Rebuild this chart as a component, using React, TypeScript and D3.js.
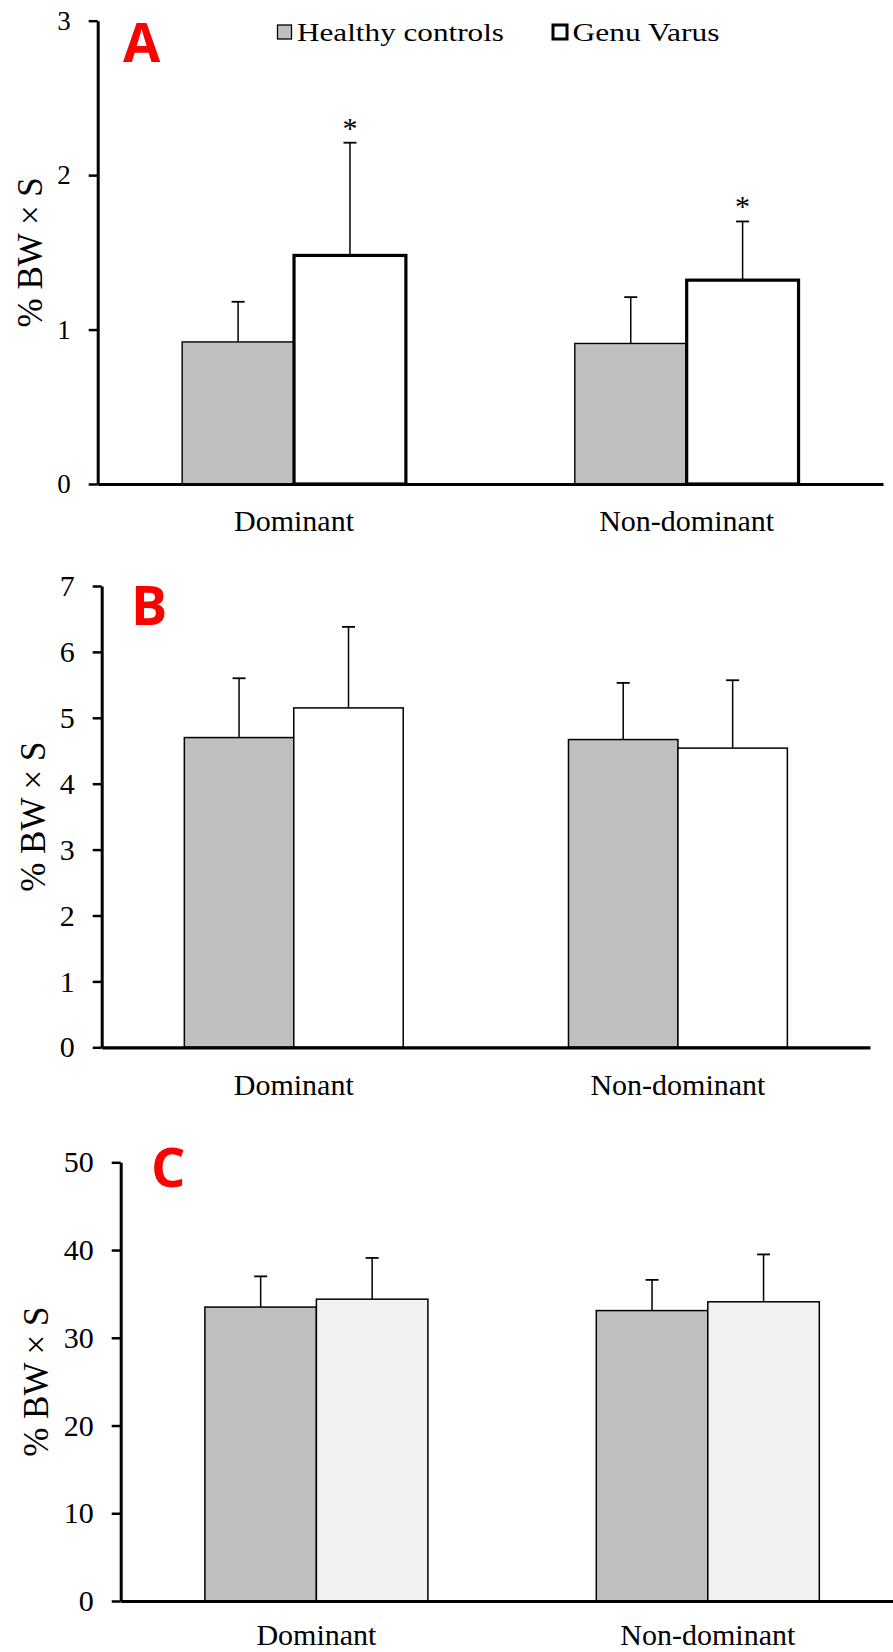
import React, { useEffect, useRef } from "react";
import * as d3 from "d3";

// categories and groups
const categories = ["Dominant", "Non-dominant"];
const groups = ["Healthy controls", "Genu Varus"];

// panel A (means and SD)
const healthyA = [0.92, 0.91];
const healthySdA = [0.26, 0.3];
const varusA = [1.48, 1.32];
const varusSdA = [0.73, 0.38];
const sigA = [true, true];
const ticksA = [0, 1, 2, 3];

// panel B
const healthyB = [4.7, 4.67];
const healthySdB = [0.9, 0.86];
const varusB = [5.15, 4.54];
const varusSdB = [1.23, 1.03];
const sigB = [false, false];
const ticksB = [0, 1, 2, 3, 4, 5, 6, 7];

// panel C
const healthyC = [33.5, 33.1];
const healthySdC = [3.5, 3.5];
const varusC = [34.4, 34.1];
const varusSdC = [4.7, 5.4];
const sigC = [false, false];
const ticksC = [0, 10, 20, 30, 40, 50];

const yTitle = "% BW × S";
const serif = "'Liberation Serif', 'Times New Roman', serif";

const panels = [
  {
    name: "A", left: 97.7, right: 883, top: 20.7, bottom: 484, max: 3, ticks: ticksA,
    healthy: healthyA, healthySd: healthySdA, varus: varusA, varusSd: varusSdA, sig: sigA,
    varusFill: "#ffffff", healthyStroke: 1.4, varusStroke: 3.2, tickFont: 27, xPad: 26,
    labelX: 123, labelY: 62, titleX: 42, legend: true,
  },
  {
    name: "B", left: 101.7, right: 870, top: 586, bottom: 1047.3, max: 7, ticks: ticksB,
    healthy: healthyB, healthySd: healthySdB, varus: varusB, varusSd: varusSdB, sig: sigB,
    varusFill: "#ffffff", healthyStroke: 1.5, varusStroke: 1.5, tickFont: 30, xPad: 26,
    labelX: 131, labelY: 625, titleX: 45, legend: false,
  },
  {
    name: "C", left: 120.7, right: 903.5, top: 1162.3, bottom: 1601, max: 50, ticks: ticksC,
    healthy: healthyC, healthySd: healthySdC, varus: varusC, varusSd: varusSdC, sig: sigC,
    varusFill: "#f2f2f2", healthyStroke: 1.5, varusStroke: 1.5, tickFont: 30, xPad: 23,
    labelX: 151, labelY: 1187, titleX: 48, legend: false,
  },
];

export default function App() {
  const ref = useRef<SVGSVGElement>(null);

  useEffect(() => {
    const svg = d3.select(ref.current);
    svg.selectAll("*").remove();

    panels.forEach((p) => {
      const g = svg.append("g");
      const x0 = d3.scaleBand().domain(categories).range([p.left, p.right]).padding(0);
      const x1 = d3.scaleBand().domain(groups).range([0, x0.bandwidth()]).paddingInner(0).paddingOuter(0.755);
      const y = d3.scaleLinear().domain([0, p.max]).range([p.bottom, p.top]);

      const rows = categories.map((c, i) => ({
        cat: c,
        items: [
          { grp: groups[0], v: p.healthy[i], sd: p.healthySd[i], fill: "#bfbfbf", sw: p.healthyStroke, sig: false },
          { grp: groups[1], v: p.varus[i], sd: p.varusSd[i], fill: p.varusFill, sw: p.varusStroke, sig: p.sig[i] },
        ],
      }));

      const cat = g.selectAll(".cat").data(rows).join("g")
        .attr("transform", (d) => `translate(${x0(d.cat)},0)`);

      cat.selectAll("rect").data((d) => d.items).join("rect")
        .attr("x", (d) => x1(d.grp)!)
        .attr("y", (d) => y(d.v))
        .attr("width", x1.bandwidth())
        .attr("height", (d) => p.bottom - y(d.v))
        .attr("fill", (d) => d.fill)
        .attr("stroke", "#000")
        .attr("stroke-width", (d) => d.sw);

      // error bars
      const err = cat.selectAll(".err").data((d) => d.items).join("g")
        .attr("transform", (d) => `translate(${x1(d.grp)! + x1.bandwidth() / 2},0)`);
      err.append("line")
        .attr("y1", (d) => y(d.v)).attr("y2", (d) => y(d.v + d.sd))
        .attr("stroke", "#000").attr("stroke-width", 1.5);
      err.append("line")
        .attr("x1", -6.5).attr("x2", 6.5)
        .attr("y1", (d) => y(d.v + d.sd)).attr("y2", (d) => y(d.v + d.sd))
        .attr("stroke", "#000").attr("stroke-width", 1.8);
      err.filter((d) => d.sig).append("text")
        .attr("y", (d) => y(d.v + d.sd) - 5)
        .attr("text-anchor", "middle")
        .attr("font-family", serif)
        .attr("font-size", 30)
        .text("*");

      // axes
      const yAxis = g.append("g")
        .attr("transform", `translate(${p.left},0)`)
        .call(
          d3.axisLeft(y).tickValues(p.ticks).tickFormat(d3.format("d"))
            .tickSize(9).tickSizeOuter(0).tickPadding(18)
        );
      yAxis.select(".domain").attr("stroke-width", 3);
      yAxis.selectAll(".tick line").attr("stroke-width", 2.5);
      yAxis.selectAll("text").attr("font-family", serif).attr("font-size", p.tickFont).attr("fill", "#000");

      const xAxis = g.append("g")
        .attr("transform", `translate(0,${p.bottom})`)
        .call(d3.axisBottom(x0).tickSize(0).tickSizeOuter(0).tickPadding(p.xPad));
      xAxis.select(".domain").attr("stroke-width", 3.2);
      xAxis.selectAll("text").attr("font-family", serif).attr("font-size", 30).attr("fill", "#000");

      // y title
      g.append("text")
        .attr("transform", `translate(${p.titleX},${(p.top + p.bottom) / 2}) rotate(-90)`)
        .attr("text-anchor", "middle")
        .attr("font-family", serif)
        .attr("font-size", 35)
        .text(yTitle);

      // panel letter
      g.append("text")
        .attr("x", p.labelX).attr("y", p.labelY)
        .attr("font-family", "'Open Sans', 'Liberation Sans', sans-serif")
        .attr("font-weight", 700)
        .attr("font-size", 54)
        .attr("fill", "#ff0000")
        .text(p.name);

      if (p.legend) {
        const leg = [
          { name: groups[0], x: 277.5, fill: "#bfbfbf", sw: 1.3, len: 207 },
          { name: groups[1], x: 553, fill: "#ffffff", sw: 3, len: 147 },
        ];
        const li = g.selectAll(".leg").data(leg).join("g");
        li.append("rect")
          .attr("x", (d) => d.x).attr("y", 25).attr("width", 14).attr("height", 14)
          .attr("fill", (d) => d.fill).attr("stroke", "#000").attr("stroke-width", (d) => d.sw);
        li.append("text")
          .attr("x", (d) => d.x + 19.5).attr("y", 40.5)
          .attr("font-family", serif).attr("font-size", 26)
          .attr("textLength", (d) => d.len).attr("lengthAdjust", "spacingAndGlyphs")
          .text((d) => d.name);
      }
    });
  }, []);

  return (
    <svg
      ref={ref}
      width={893}
      height={1652}
      style={{ position: "absolute", left: 0, top: 0, background: "#fff" }}
    />
  );
}
